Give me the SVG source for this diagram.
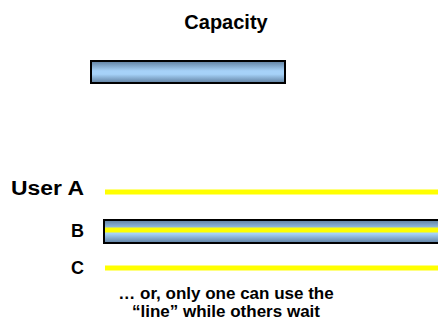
<svg xmlns="http://www.w3.org/2000/svg" width="438" height="325" viewBox="0 0 438 325">
  <style>
    .t { font-family: "Liberation Sans", Arial, sans-serif; font-weight: bold; fill: #000; }
    .pipe { fill: url(#pipeGrad); stroke: #000; stroke-width: 2; }
    .wire { stroke: #ffff00; stroke-width: 5; fill: none; }
  </style>
  <defs>
    <linearGradient id="pipeGrad" x1="0" y1="0" x2="0" y2="1">
      <stop offset="0" stop-color="#5f7f9f"/>
      <stop offset="0.45" stop-color="#a6d2f8"/>
      <stop offset="0.6" stop-color="#a6d2f8"/>
      <stop offset="1" stop-color="#5f7f9f"/>
    </linearGradient>
  </defs>
  <rect width="438" height="325" fill="#fff"/>

  <g id="title">
    <text class="t" x="226" y="29" font-size="20" text-anchor="middle">Capacity</text>
  </g>

  <g id="capacity-pipe">
    <rect class="pipe" x="91" y="61" width="194" height="22"/>
  </g>

  <g id="user-a">
    <text class="t" x="84" y="195" font-size="20" text-anchor="end" textLength="73" lengthAdjust="spacingAndGlyphs">User A</text>
  </g>
  <g id="user-b">
    <text class="t" x="84" y="237" font-size="18" text-anchor="end">B</text>
  </g>
  <g id="user-c">
    <text class="t" x="84" y="274" font-size="18" text-anchor="end">C</text>
  </g>

  <g id="shared-pipe">
    <rect class="pipe" x="104" y="220" width="340" height="23"/>
  </g>

  <g id="connectors">
    <line class="wire" x1="105" y1="192" x2="438" y2="192"/>
    <line class="wire" x1="105" y1="230" x2="438" y2="230"/>
    <line class="wire" x1="105" y1="268" x2="438" y2="268"/>
  </g>

  <g id="caption">
    <text class="t" x="226" y="299" font-size="17" text-anchor="middle">… or, only one can use the</text>
    <text class="t" x="226" y="317" font-size="17" text-anchor="middle">“line” while others wait</text>
  </g>
</svg>
